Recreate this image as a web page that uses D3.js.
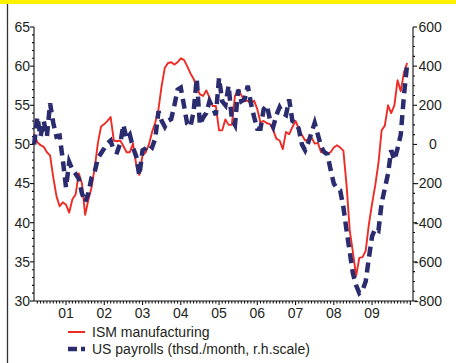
<!DOCTYPE html>
<html><head><meta charset="utf-8">
<script src="https://cdn.jsdelivr.net/npm/d3@7"></script>
<style>
body{margin:0;background:#fff}
svg{display:block}
text{font-family:"Liberation Sans",Arial,sans-serif;fill:#231f20}
</style>
</head><body>
<svg id="c" width="456" height="363"></svg>
<script>
// ---- data (monthly, Mar 2000 .. Dec 2009) ----
const firstMonth = [2000, 3];
const ism = [
51.4,50.3,49.9,49.7,49.0,48.6,45.8,43.4,42.1,42.6,42.3,41.3,
43.0,43.6,46.3,45.0,41.0,42.9,44.5,47.0,50.2,52.3,52.6,53.0,
53.5,50.5,50.4,50.5,49.8,49.0,49.0,50.1,47.5,46.1,48.6,49.0,
50.0,51.6,52.8,54.5,57.5,59.8,60.4,60.5,60.2,60.5,61.0,60.8,
60.0,59.1,58.4,57.3,56.4,56.2,56.9,56.0,54.9,54.9,51.8,51.8,
53.2,52.5,52.5,56.2,57.0,56.3,55.5,55.6,55.2,55.6,54.5,52.8,
53.0,52.7,52.6,51.8,50.7,50.5,49.4,51.6,51.3,52.2,53.0,52.0,
51.2,50.5,50.6,50.9,50.1,50.2,49.0,49.2,48.8,49.0,49.6,49.9,
49.6,49.2,44.8,39.0,36.2,33.2,35.5,35.6,36.4,39.8,42.4,44.8,
47.6,51.8,52.4,55.0,54.0,55.0,58.2,56.8,59.2,60.4
];
const payrolls = [
0,140,40,120,40,210,110,40,45,-80,-220,-90,
-130,-150,-175,-250,-295,-250,-170,-140,-70,-45,-20,5,
20,-35,-40,5,100,30,50,-15,-60,-160,-30,-20,
0,-15,30,170,120,90,120,130,200,280,290,200,
106,90,165,335,100,137,160,220,190,150,340,220,
200,300,130,100,280,220,230,300,210,140,80,80,
180,200,125,90,150,190,160,150,230,120,110,80,
0,-30,10,60,110,50,-10,-40,-50,-130,-200,-225,
-235,-320,-440,-550,-660,-720,-760,-745,-700,-580,-470,-430,
-440,-300,-225,-150,-30,-80,-20,50,250,410
];
const yearLabels = ["01","02","03","04","05","06","07","08","09"];
const yearTicks = [2001,2002,2003,2004,2005,2006,2007,2008,2009];
const leftTicks = [30,35,40,45,50,55,60,65];
const rightTicks = [-800,-600,-400,-200,0,200,400,600];
const seriesNames = ["ISM manufacturing","US payrolls (thsd./month, r.h.scale)"];
const colors = {ism:"#ee2b24", pay:"#2b2c70"};

// ---- layout ----
const svg = d3.select("#c");
const L = 34, R = 413, T = 27, B = 301;
const t = ism.map((_, i) => firstMonth[0] + (firstMonth[1] - 1 + i) / 12);

const x = d3.scaleLinear().domain([2000.163, 2010.07]).range([L, R]);
const yL = d3.scaleLinear().domain([30, 65]).range([B, T]);
const yR = d3.scaleLinear().domain([-800, 600]).range([B, T]);

// top yellow band and left rule
svg.append("rect").attr("x",0).attr("y",0).attr("width",456).attr("height",4).attr("fill","#fff200");
svg.append("line").attr("x1",7.5).attr("x2",7.5).attr("y1",4).attr("y2",363).attr("stroke","#333").attr("stroke-width",1.3);

// ---- axes ----
const axisG = svg.append("g").attr("stroke","#111").attr("stroke-width",1.1);
// left axis
axisG.append("line").attr("x1",L).attr("x2",L).attr("y1",T).attr("y2",B);
d3.range(30,66,1).forEach(v=>{
  const major = v%5===0;
  axisG.append("line").attr("x1",L-(major?4:2)).attr("x2",L).attr("y1",yL(v)).attr("y2",yL(v));
});
svg.append("g").selectAll("text").data(leftTicks).join("text")
  .attr("x",30).attr("y",d=>yL(d)+4.8).attr("text-anchor","end").attr("font-size",14).text(d=>d);
// right axis
axisG.append("line").attr("x1",R).attr("x2",R).attr("y1",T).attr("y2",B);
d3.range(-800,601,50).forEach(v=>{
  const major = v%200===0;
  axisG.append("line").attr("x1",R).attr("x2",R+(major?4:2)).attr("y1",yR(v)).attr("y2",yR(v));
});
svg.append("g").selectAll("text").data(rightTicks).join("text")
  .attr("x",d=>d===0?433:(d<0?414:418.5))
  .attr("y",d=>yR(d)+4.8)
  .attr("text-anchor",d=>d===0?"middle":"start")
  .attr("font-size",14).text(d=>d<0?"-"+Math.abs(d):d);
// bottom axis
axisG.append("line").attr("x1",L).attr("x2",R).attr("y1",B).attr("y2",B);
d3.range(2000+3/12, 2010.07, 1/12).forEach(v=>{
  const yr = Math.abs(v-Math.round(v))<1e-6;
  if (x(v)<=L+0.5 || x(v)>=R-0.5) return;
  axisG.append("line").attr("x1",x(v)).attr("x2",x(v)).attr("y1",B).attr("y2",B+(yr?4:2.5));
});
svg.append("g").selectAll("text").data(yearTicks).join("text")
  .attr("x",d=>x(d)).attr("y",318).attr("text-anchor","middle").attr("font-size",14)
  .text((d,i)=>yearLabels[i]);

// ---- series ----
const lineL = d3.line().x((d,i)=>x(t[i])).y(d=>yL(d));
const lineR = d3.line().x((d,i)=>x(t[i])).y(d=>yR(d));
svg.append("path").datum(ism).attr("d",lineL).attr("fill","none")
  .attr("stroke",colors.ism).attr("stroke-width",1.9).attr("stroke-linejoin","round");
svg.append("path").datum(payrolls).attr("d",lineR).attr("fill","none")
  .attr("stroke",colors.pay).attr("stroke-width",4.5).attr("stroke-dasharray","10,6");

// ---- legend ----
const lg = svg.append("g");
lg.append("line").attr("x1",68).attr("x2",85).attr("y1",332).attr("y2",332)
  .attr("stroke",colors.ism).attr("stroke-width",2);
lg.append("line").attr("x1",68).attr("x2",85).attr("y1",349).attr("y2",349)
  .attr("stroke",colors.pay).attr("stroke-width",4.5).attr("stroke-dasharray","9,4");
lg.selectAll("text").data(seriesNames).join("text")
  .attr("x",92).attr("y",(d,i)=>337+i*17).attr("font-size",14).text(d=>d);
</script>
</body></html>
